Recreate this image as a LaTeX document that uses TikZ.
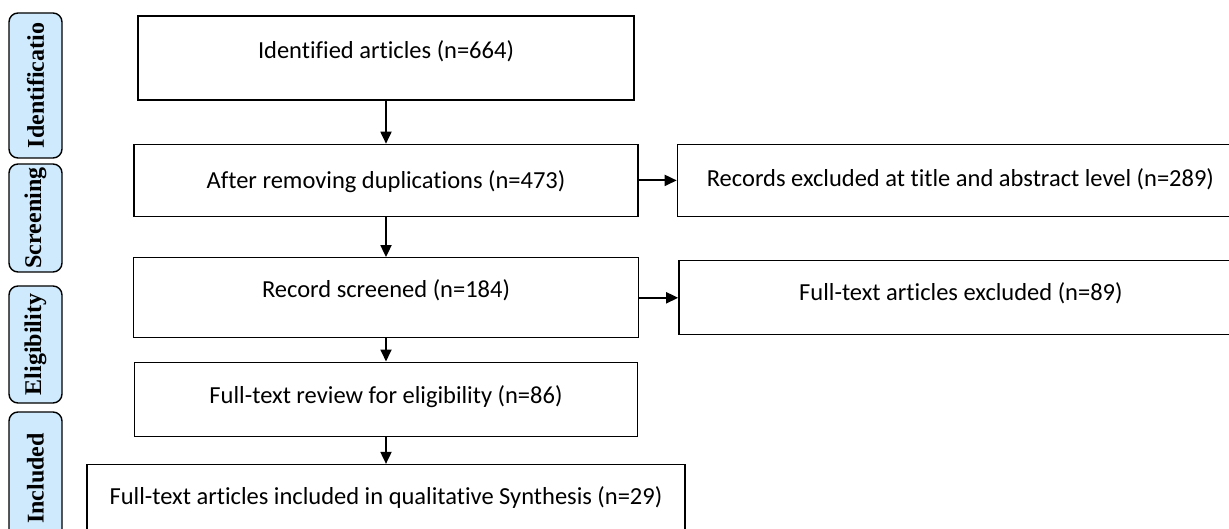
\documentclass[tikz,border=0pt]{standalone}
\usepackage{fontspec}
\usepackage{tikz}
\usetikzlibrary{arrows.meta,positioning}
\newfontfamily\boxfont[Ligatures=NoCommon]{Carlito}
\newfontfamily\tabfont{Liberation Serif}
\definecolor{tabblue}{RGB}{206,234,252}

\begin{document}
\begin{tikzpicture}[x=1pt, y=-1pt, >={Triangle[length=12pt,width=11pt]},
    flowbox/.style={draw, line width=1.4pt, inner sep=0pt, font=\boxfont\fontsize{24.5}{28}\selectfont},
    phase/.style={draw, line width=1.4pt, fill=tabblue, rounded corners=9pt, rotate=90, minimum height=53pt, inner sep=0pt, font=\tabfont\bfseries\fontsize{24}{28}\selectfont},
    flow/.style={->, line width=1.8pt}]
    \useasboundingbox (0,0) rectangle (1229,529);
    \clip (0,0) rectangle (1229,529);

    % Phases {Identification, Screening, Eligibility, Included}
    \node [phase, minimum width=145pt]  (tabident)   at (35.5,85.5)   {Identificatio};
    \node [phase, minimum width=108pt]  (tabscreen)  at (35.5,218)    {Screening};
    \node [phase, minimum width=117pt]  (tabelig)    at (35.5,344.5)  {Eligibility};
    \node [phase, minimum width=133pt]  (tabincl)    at (35.5,478.5)  {Included};

    % Boxes {ident, dupl, screen, elig, incl, titleex, ftex}
    \node [flowbox, minimum width=496pt, text height=43pt, text depth=41pt]  (ident)    at (386,58)            {Identified articles (n=664)};
    \node [flowbox, minimum width=504pt, text height=44pt, text depth=28pt]  (dupl)     [below=43pt of ident]  {After removing duplications (n=473)};
    \node [flowbox, minimum width=505pt, text height=40pt, text depth=40pt]  (screen)   [below=40pt of dupl]   {Record screened (n=184)};
    \node [flowbox, minimum width=503pt, text height=41pt, text depth=33pt]  (elig)     [below=23pt of screen] {Full-text review for eligibility (n=86)};
    \node [flowbox, minimum width=598pt, text height=40pt, text depth=45pt]  (incl)     [below=27pt of elig]   {Full-text articles included in qualitative Synthesis (n=29)};
    \node [flowbox, minimum width=566pt, text height=42pt, text depth=30pt]  (titleex)  [right=38pt of dupl]   {Records excluded at title and abstract level (n=289)};
    \node [flowbox, minimum width=564pt, text height=40pt, text depth=34pt]  (ftex)     [right=39pt of screen] {Full-text articles excluded (n=89)};

    % Paths
    \draw [flow]  (ident)  -- (dupl);
    \draw [flow]  (dupl)   -- (screen);
    \draw [flow]  (screen) -- (elig);
    \draw [flow]  (elig)   -- (incl);
    \draw [flow]  (dupl)   -- (titleex);
    \draw [flow]  (screen) -- (ftex);

\end{tikzpicture}
\end{document}
